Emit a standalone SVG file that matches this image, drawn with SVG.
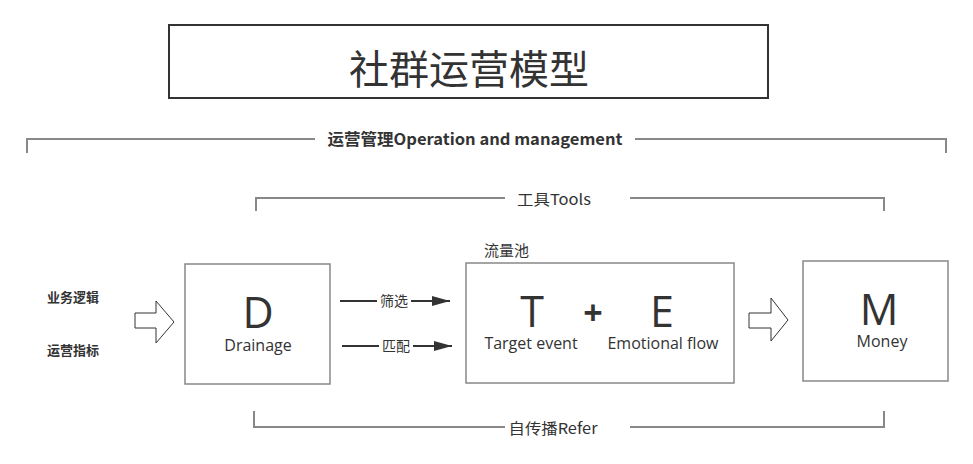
<svg xmlns="http://www.w3.org/2000/svg" width="973" height="464" viewBox="0 0 973 464">
<defs>
<style>
.cn{font-family:"Noto Sans CJK SC","Noto Sans",sans-serif;fill:#333}
.lt{font-family:"Open Sans","Noto Sans","Noto Sans CJK SC",sans-serif;fill:#333}
.box{fill:#fff;stroke:#888;stroke-width:1.5}
.br{fill:none;stroke:#888;stroke-width:2}
.hol{fill:#fff;stroke:#333;stroke-width:1}
.ln{stroke:#333;stroke-width:2;fill:none}
</style>
<marker id="ah" markerWidth="10" markerHeight="8" refX="10" refY="4" orient="auto" markerUnits="userSpaceOnUse" viewBox="0 0 10 8">
<path d="M0,0 L10,4 L0,8 Z" fill="#333"/>
</marker>
<marker id="ah2" markerWidth="18" markerHeight="10" refX="18" refY="5" orient="auto" markerUnits="userSpaceOnUse" viewBox="0 0 18 10">
<path d="M0,0 L18,5 L0,10 Z" fill="#333"/>
</marker>
</defs>
<rect width="973" height="464" fill="#fff"/>

<g id="title">
<rect x="169" y="25" width="599" height="73" fill="#fff" stroke="#333" stroke-width="2"/>
<text class="cn" x="469" y="84" font-size="40" text-anchor="middle">社群运营模型</text>
</g>

<g id="brackets">
<path class="br" d="M27,153 V139 H315 M635,139 H946 V153"/>
<text class="cn" x="475" y="145" font-size="16" font-weight="bold" text-anchor="middle" textLength="295" lengthAdjust="spacingAndGlyphs">运营管理Operation and management</text>
<path class="br" d="M256,211 V198 H505 M630,198 H884 V211"/>
<text class="cn" x="554" y="205" font-size="15" text-anchor="middle" textLength="74" lengthAdjust="spacingAndGlyphs">工具Tools</text>
<path class="br" d="M254,411 V427 H505 M630,427 H884 V411"/>
<text class="cn" x="553" y="434" font-size="15" text-anchor="middle" textLength="89" lengthAdjust="spacingAndGlyphs">自传播Refer</text>
</g>

<g id="inputs">
<text class="cn" x="47" y="302" font-size="13" font-weight="bold">业务逻辑</text>
<text class="cn" x="47" y="355" font-size="13" font-weight="bold">运营指标</text>
</g>

<g id="node-D">
<rect class="box" x="185" y="264" width="145" height="120"/>
<text class="lt" x="258" y="328" font-size="43" text-anchor="middle">D</text>
<text class="lt" x="258" y="351" font-size="16" text-anchor="middle">Drainage</text>
</g>

<g id="node-TE">
<text class="cn" x="484" y="256" font-size="15">流量池</text>
<rect class="box" x="466" y="263" width="268" height="120"/>
<text class="lt" x="532" y="327" font-size="43" text-anchor="middle">T</text>
<text class="lt" x="593" y="325" font-size="34" text-anchor="middle" font-weight="bold">+</text>
<text class="lt" x="662" y="327" font-size="43" text-anchor="middle">E</text>
<text class="lt" x="531" y="349" font-size="16" text-anchor="middle">Target event</text>
<text class="lt" x="663" y="349" font-size="16" text-anchor="middle">Emotional flow</text>
</g>

<g id="node-M">
<rect class="box" x="803" y="261" width="145" height="120"/>
<text class="lt" x="879" y="325" font-size="43" text-anchor="middle">M</text>
<text class="lt" x="882" y="347" font-size="16" text-anchor="middle">Money</text>
</g>

<g id="connectors">
<path class="hol" d="M135,313 H156 V301 L174,322 L156,343 V328 H135 Z"/>
<path class="hol" d="M749,313 H771 V298 L788,320 L771,341 V328 H749 Z"/>
<line class="ln" x1="340" y1="301" x2="450" y2="301" marker-end="url(#ah2)"/>
<rect x="377" y="292" width="34" height="17" fill="#fff"/>
<text class="cn" x="394" y="306" font-size="14" text-anchor="middle">筛选</text>
<line class="ln" x1="342" y1="346" x2="452" y2="346" marker-end="url(#ah2)"/>
<rect x="379" y="337" width="34" height="17" fill="#fff"/>
<text class="cn" x="396" y="351" font-size="14" text-anchor="middle">匹配</text>
</g>
</svg>
